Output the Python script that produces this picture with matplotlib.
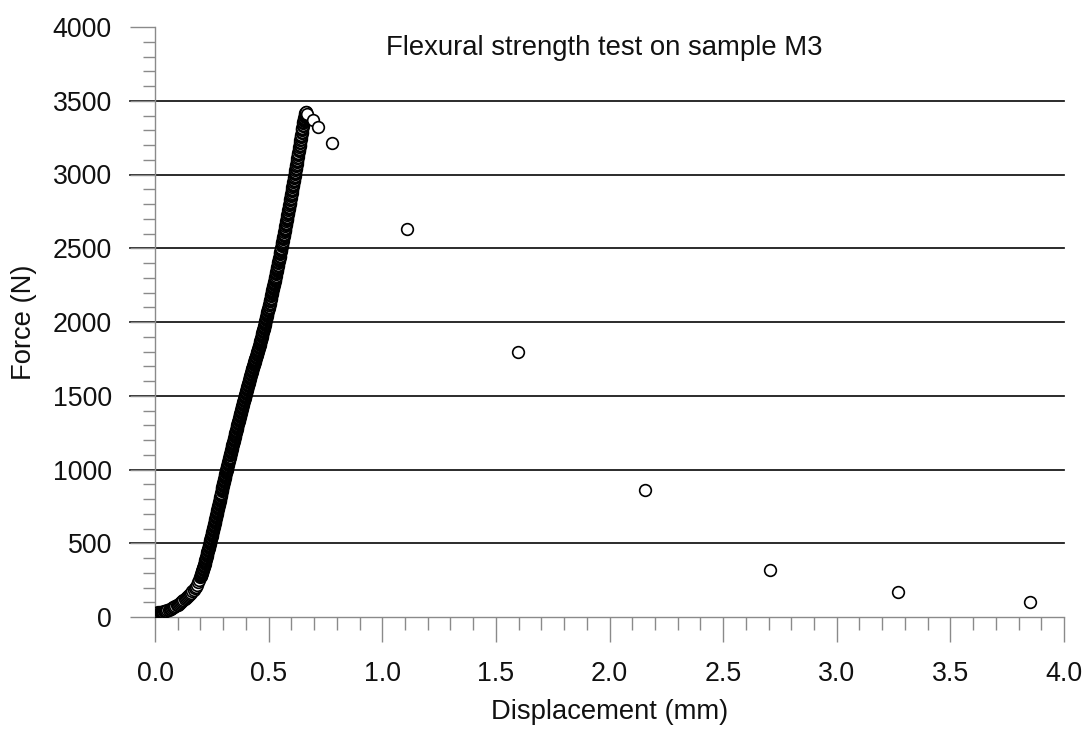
import matplotlib
matplotlib.use("Agg")
import matplotlib.pyplot as plt
from matplotlib.ticker import MultipleLocator, FormatStrFormatter

plt.rcParams["font.family"] = ["Liberation Sans", "DejaVu Sans"]

# Loading branch, toe region: displacement (mm) and force (N)
disp_toe = [0.005, 0.010, 0.015, 0.020, 0.025, 0.030, 0.035, 0.040, 0.045, 0.050,
            0.055, 0.060, 0.065, 0.070, 0.075, 0.080, 0.085, 0.090, 0.095, 0.100,
            0.105, 0.110, 0.115, 0.120, 0.125, 0.130, 0.135, 0.140, 0.145, 0.150,
            0.155, 0.160, 0.165, 0.170, 0.175, 0.180, 0.185, 0.190, 0.195]
force_toe = [29, 30, 31, 32, 33, 35, 37, 39, 41, 44,
             47, 50, 53, 57, 61, 65, 69, 74, 79, 84,
             90, 96, 102, 109, 115, 122, 129, 136, 143, 150,
             157, 165, 174, 183, 194, 205, 220, 235, 253]

# Loading branch, steep rise up to the peak load
disp_rise = [
    0.200, 0.201, 0.202, 0.203, 0.204, 0.205, 0.206, 0.207, 0.208, 0.209,
    0.210, 0.211, 0.212, 0.213, 0.214, 0.215, 0.216, 0.217, 0.218, 0.219,
    0.220, 0.221, 0.222, 0.223, 0.224, 0.225, 0.226, 0.227, 0.228, 0.229,
    0.230, 0.231, 0.232, 0.233, 0.234, 0.235, 0.236, 0.237, 0.238, 0.239,
    0.240, 0.241, 0.242, 0.243, 0.244, 0.245, 0.246, 0.247, 0.248, 0.249,
    0.250, 0.251, 0.252, 0.253, 0.254, 0.255, 0.256, 0.257, 0.258, 0.259,
    0.260, 0.261, 0.262, 0.263, 0.264, 0.265, 0.266, 0.267, 0.268, 0.269,
    0.270, 0.271, 0.272, 0.273, 0.274, 0.275, 0.276, 0.277, 0.278, 0.279,
    0.280, 0.281, 0.282, 0.283, 0.284, 0.285, 0.286, 0.287, 0.288, 0.289,
    0.290, 0.291, 0.292, 0.293, 0.294, 0.295, 0.296, 0.297, 0.298, 0.299,
    0.300, 0.301, 0.302, 0.303, 0.304, 0.305, 0.306, 0.307, 0.308, 0.309,
    0.310, 0.311, 0.312, 0.313, 0.314, 0.315, 0.316, 0.317, 0.318, 0.319,
    0.320, 0.321, 0.322, 0.323, 0.324, 0.325, 0.326, 0.327, 0.328, 0.329,
    0.330, 0.331, 0.332, 0.333, 0.334, 0.335, 0.336, 0.337, 0.338, 0.339,
    0.340, 0.341, 0.342, 0.343, 0.344, 0.345, 0.346, 0.347, 0.348, 0.349,
    0.350, 0.351, 0.352, 0.353, 0.354, 0.355, 0.356, 0.357, 0.358, 0.359,
    0.360, 0.361, 0.362, 0.363, 0.364, 0.365, 0.366, 0.367, 0.368, 0.369,
    0.370, 0.371, 0.372, 0.373, 0.374, 0.375, 0.376, 0.377, 0.378, 0.379,
    0.380, 0.381, 0.382, 0.383, 0.384, 0.385, 0.386, 0.387, 0.388, 0.389,
    0.390, 0.391, 0.392, 0.393, 0.394, 0.395, 0.396, 0.397, 0.398, 0.399,
    0.400, 0.401, 0.402, 0.403, 0.404, 0.405, 0.406, 0.407, 0.408, 0.409,
    0.410, 0.411, 0.412, 0.413, 0.414, 0.415, 0.416, 0.417, 0.418, 0.419,
    0.420, 0.421, 0.422, 0.423, 0.424, 0.425, 0.426, 0.427, 0.428, 0.429,
    0.430, 0.431, 0.432, 0.433, 0.434, 0.435, 0.436, 0.437, 0.438, 0.439,
    0.440, 0.441, 0.442, 0.443, 0.444, 0.445, 0.446, 0.447, 0.448, 0.449,
    0.450, 0.451, 0.452, 0.453, 0.454, 0.455, 0.456, 0.457, 0.458, 0.459,
    0.460, 0.461, 0.462, 0.463, 0.464, 0.465, 0.466, 0.467, 0.468, 0.469,
    0.470, 0.471, 0.472, 0.473, 0.474, 0.475, 0.476, 0.477, 0.478, 0.479,
    0.480, 0.481, 0.482, 0.483, 0.484, 0.485, 0.486, 0.487, 0.488, 0.489,
    0.490, 0.491, 0.492, 0.493, 0.494, 0.495, 0.496, 0.497, 0.498, 0.499,
    0.500, 0.501, 0.502, 0.503, 0.504, 0.505, 0.506, 0.507, 0.508, 0.509,
    0.510, 0.511, 0.512, 0.513, 0.514, 0.515, 0.516, 0.517, 0.518, 0.519,
    0.520, 0.521, 0.522, 0.523, 0.524, 0.525, 0.526, 0.527, 0.528, 0.529,
    0.530, 0.531, 0.532, 0.533, 0.534, 0.535, 0.536, 0.537, 0.538, 0.539,
    0.540, 0.541, 0.542, 0.543, 0.544, 0.545, 0.546, 0.547, 0.548, 0.549,
    0.550, 0.551, 0.552, 0.553, 0.554, 0.555, 0.556, 0.557, 0.558, 0.559,
    0.560, 0.561, 0.562, 0.563, 0.564, 0.565, 0.566, 0.567, 0.568, 0.569,
    0.570, 0.571, 0.572, 0.573, 0.574, 0.575, 0.576, 0.577, 0.578, 0.579,
    0.580, 0.581, 0.582, 0.583, 0.584, 0.585, 0.586, 0.587, 0.588, 0.589,
    0.590, 0.591, 0.592, 0.593, 0.594, 0.595, 0.596, 0.597, 0.598, 0.599,
    0.600, 0.601, 0.602, 0.603, 0.604, 0.605, 0.606, 0.607, 0.608, 0.609,
    0.610, 0.611, 0.612, 0.613, 0.614, 0.615, 0.616, 0.617, 0.618, 0.619,
    0.620, 0.621, 0.622, 0.623, 0.624, 0.625, 0.626, 0.627, 0.628, 0.629,
    0.630, 0.631, 0.632, 0.633, 0.634, 0.635, 0.636, 0.637, 0.638, 0.639,
    0.640, 0.641, 0.642, 0.643, 0.644, 0.645, 0.646, 0.647, 0.648, 0.649,
    0.650, 0.651, 0.652, 0.653, 0.654, 0.655, 0.656, 0.657, 0.658, 0.659,
    0.660, 0.661, 0.662, 0.663, 0.664]
force_rise = [
    272, 276, 281, 285, 290, 295, 300, 304, 309, 313,
    318, 323, 329, 334, 340, 345, 350, 355, 361, 366,
    372, 378, 384, 390, 396, 402, 408, 414, 420, 426,
    432, 438, 445, 451, 457, 463, 470, 476, 482, 488,
    495, 501, 508, 514, 520, 526, 533, 539, 545, 551,
    558, 564, 571, 577, 584, 591, 598, 604, 611, 617,
    624, 631, 638, 644, 651, 658, 665, 671, 678, 685,
    692, 699, 706, 712, 719, 726, 733, 739, 746, 753,
    760, 767, 774, 781, 788, 795, 802, 809, 816, 823,
    830, 837, 844, 851, 858, 865, 872, 879, 886, 893,
    900, 907, 914, 920, 927, 934, 941, 947, 954, 961,
    968, 974, 981, 987, 994, 1000, 1006, 1012, 1019, 1025,
    1032, 1038, 1045, 1051, 1057, 1063, 1070, 1076, 1082, 1088,
    1095, 1101, 1108, 1114, 1120, 1126, 1133, 1139, 1145, 1151,
    1158, 1164, 1170, 1176, 1183, 1189, 1195, 1201, 1208, 1214,
    1220, 1226, 1232, 1238, 1245, 1251, 1257, 1263, 1270, 1276,
    1282, 1288, 1294, 1300, 1306, 1312, 1319, 1325, 1331, 1337,
    1343, 1349, 1355, 1361, 1367, 1373, 1379, 1385, 1391, 1397,
    1403, 1409, 1415, 1421, 1427, 1432, 1438, 1444, 1450, 1456,
    1462, 1468, 1474, 1479, 1485, 1491, 1497, 1502, 1508, 1514,
    1520, 1526, 1532, 1537, 1543, 1549, 1555, 1560, 1566, 1572,
    1578, 1583, 1589, 1595, 1601, 1606, 1612, 1618, 1624, 1629,
    1635, 1640, 1646, 1651, 1657, 1662, 1668, 1673, 1679, 1684,
    1690, 1695, 1700, 1705, 1711, 1716, 1721, 1726, 1732, 1737,
    1742, 1747, 1752, 1756, 1761, 1766, 1771, 1775, 1780, 1785,
    1790, 1795, 1801, 1806, 1812, 1817, 1823, 1828, 1834, 1839,
    1845, 1851, 1857, 1863, 1869, 1875, 1881, 1887, 1893, 1899,
    1905, 1911, 1918, 1924, 1930, 1936, 1943, 1949, 1955, 1961,
    1968, 1974, 1981, 1987, 1994, 2000, 2006, 2012, 2019, 2025,
    2032, 2038, 2045, 2051, 2058, 2065, 2072, 2078, 2085, 2091,
    2098, 2105, 2112, 2118, 2125, 2132, 2139, 2145, 2152, 2159,
    2166, 2173, 2180, 2187, 2194, 2201, 2208, 2215, 2222, 2229,
    2236, 2243, 2250, 2257, 2265, 2272, 2279, 2286, 2294, 2301,
    2308, 2315, 2323, 2330, 2338, 2345, 2352, 2359, 2367, 2374,
    2382, 2389, 2397, 2404, 2412, 2420, 2428, 2435, 2443, 2450,
    2458, 2466, 2474, 2481, 2489, 2497, 2505, 2512, 2520, 2528,
    2536, 2544, 2552, 2560, 2568, 2576, 2584, 2592, 2600, 2608,
    2616, 2624, 2632, 2640, 2649, 2657, 2665, 2673, 2682, 2690,
    2698, 2706, 2715, 2723, 2732, 2740, 2748, 2756, 2765, 2773,
    2782, 2790, 2799, 2807, 2816, 2825, 2834, 2842, 2851, 2859,
    2868, 2877, 2886, 2894, 2903, 2912, 2921, 2929, 2938, 2947,
    2956, 2965, 2974, 2983, 2992, 3001, 3010, 3019, 3028, 3037,
    3046, 3055, 3064, 3073, 3083, 3092, 3101, 3110, 3120, 3129,
    3138, 3147, 3157, 3166, 3176, 3185, 3194, 3203, 3213, 3222,
    3232, 3241, 3251, 3260, 3270, 3280, 3290, 3299, 3309, 3318,
    3328, 3337, 3346, 3354, 3362, 3370, 3377, 3384, 3391, 3397,
    3403, 3411, 3418, 3421, 3424]

# Post-peak branch (fracture and unloading)
disp_post = [0.670, 0.697, 0.719, 0.778, 1.108, 1.598, 2.157, 2.707, 3.270, 3.850]
force_post = [3412, 3370, 3324, 3212, 2632, 1797, 861, 318, 168, 103]

x_major = 0.5
x_minor = 0.1
y_major = 500
y_minor = 100
grid_levels = [500, 1000, 1500, 2000, 2500, 3000, 3500]

displacement = disp_toe + disp_rise + disp_post
force = force_toe + force_rise + force_post

fig = plt.figure(figsize=(10.89, 7.31), dpi=100)
ax = fig.add_axes([155 / 1089, 1 - 617 / 731, 909 / 1089, 590 / 731])

tick_len_major = 18
tick_len_minor = 9
tick_frac = (tick_len_major * 100 / 72) / 909

for level in grid_levels:
    ax.axhline(level, xmin=-tick_frac, xmax=1, color="#111111",
               linewidth=1.25, clip_on=False, zorder=1)

ax.plot(displacement, force, linestyle="none", marker="o", markersize=8.4,
        markerfacecolor="white", markeredgecolor="black", markeredgewidth=1.2,
        zorder=3)

ax.set_xlim(0, 4.0)
ax.set_ylim(0, 4000)
ax.xaxis.set_major_locator(MultipleLocator(x_major))
ax.xaxis.set_minor_locator(MultipleLocator(x_minor))
ax.yaxis.set_major_locator(MultipleLocator(y_major))
ax.yaxis.set_minor_locator(MultipleLocator(y_minor))
ax.xaxis.set_major_formatter(FormatStrFormatter("%.1f"))

spine_color = "#8a8a8a"
for side in ("top", "right"):
    ax.spines[side].set_visible(False)
for side in ("left", "bottom"):
    ax.spines[side].set_color(spine_color)
    ax.spines[side].set_linewidth(1.0)

ax.tick_params(which="major", direction="out", length=tick_len_major, width=1.0,
               color=spine_color, labelsize=19.3, labelcolor="#111111")
ax.tick_params(which="minor", direction="out", length=tick_len_minor, width=1.0,
               color=spine_color)
ax.tick_params(axis="y", which="major", pad=13)
ax.tick_params(axis="x", which="major", pad=14)

ax.set_xlabel("Displacement (mm)", fontsize=19.7, color="#111111", va="center")
ax.xaxis.set_label_coords(0.5, (617 - 712) / 590)
ax.set_ylabel("Force (N)", fontsize=19.7, color="#111111", va="center")
ax.yaxis.set_label_coords((24 - 155) / 909, 0.5)

fig.text(604 / 1089, 1 - 55 / 731, "Flexural strength test on sample M3",
         fontsize=19.8, color="#111111", ha="center", va="baseline")

fig.savefig("out.png", dpi=100, facecolor="white")
